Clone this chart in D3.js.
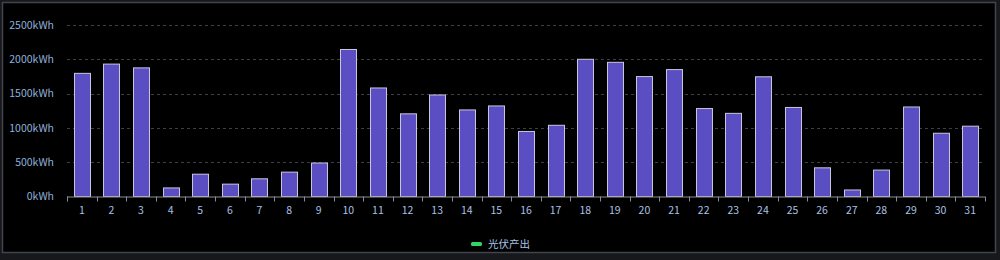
<!DOCTYPE html>
<html><head><meta charset="utf-8">
<script src="https://cdn.jsdelivr.net/npm/d3@7/dist/d3.min.js"></script>
<style>
html,body{margin:0;padding:0;background:#17181c;}
svg{display:block;}
</style></head>
<body>
<svg id="c" width="1000" height="260"></svg>
<script>
const days = ["1","2","3","4","5","6","7","8","9","10","11","12","13","14","15","16","17","18","19","20","21","22","23","24","25","26","27","28","29","30","31"];
const pvOutput = [1795,1930,1875,125,325,180,258,355,488,2143,1582,1205,1480,1262,1320,948,1038,2000,1956,1748,1850,1282,1212,1745,1298,418,95,385,1305,922,1025];
const yTicks = [0,500,1000,1500,2000,2500];
const seriesName = "光伏产出";

(function(){
const svg = d3.select("#c");
const font = "'Noto Sans CJK SC','Noto Sans',sans-serif";
svg.append("rect").attr("x",2.5).attr("y",2.5).attr("width",993).attr("height",250)
  .attr("fill","#000").attr("stroke","#41444c").attr("stroke-width",1.5);

const pL = 67, pR = 985, pT = 25, pB = 196.5;
const xb = d3.scaleBand().domain(days).range([pL,pR]);
const y = d3.scaleLinear().domain([0,2500]).range([pB,pT]);

// grid
svg.append("g").selectAll("line").data(yTicks.filter(d=>d>0)).join("line")
  .attr("x1",pL).attr("x2",pR).attr("y1",d=>Math.round(y(d))+0.5).attr("y2",d=>Math.round(y(d))+0.5)
  .attr("stroke","#3d3f45").attr("stroke-dasharray","3,3");

// y labels
svg.append("g").selectAll("text").data(yTicks).join("text")
  .attr("x",54).attr("y",d=>y(d)).attr("dy","0.35em").attr("text-anchor","end")
  .attr("fill","#8fb0dc").attr("font-size",10.5).attr("font-family",font)
  .text(d=>d+"kWh");

// bars
svg.append("g").selectAll("rect").data(pvOutput).join("rect")
  .attr("x",(d,i)=>Math.round(xb(days[i])+xb.bandwidth()/2-8)+0.5)
  .attr("y",d=>y(d)).attr("width",16).attr("height",d=>pB-y(d))
  .attr("fill","#5a4ec2").attr("stroke","#c9c6dc").attr("stroke-width",1);

// x axis
const ax = svg.append("g");
ax.append("line").attr("x1",pL).attr("x2",pR).attr("y1",pB+0.5).attr("y2",pB+0.5).attr("stroke","#8a8d96");
const bounds = days.map(d=>xb(d)).concat([pR]);
ax.selectAll("line.t").data(bounds).join("line").attr("class","t")
  .attr("x1",d=>Math.round(d)+0.5).attr("x2",d=>Math.round(d)+0.5).attr("y1",pB).attr("y2",pB+5)
  .attr("stroke","#8a8d96");
ax.selectAll("text").data(days).join("text")
  .attr("x",d=>xb(d)+xb.bandwidth()/2).attr("y",210).attr("dy","0.35em").attr("text-anchor","middle")
  .attr("fill","#a9c2e6").attr("font-size",10.5).attr("font-family",font).text(d=>d);

// legend
const lg = svg.append("g");
lg.append("rect").attr("x",471).attr("y",242).attr("width",11).attr("height",4).attr("rx",1.5).attr("fill","#2fd66a");
lg.append("text").attr("x",488).attr("y",244).attr("dy","0.35em").attr("fill","#a9c2e6")
  .attr("font-size",10.5).attr("font-family",font).text(seriesName);
})();
</script>
</body></html>
